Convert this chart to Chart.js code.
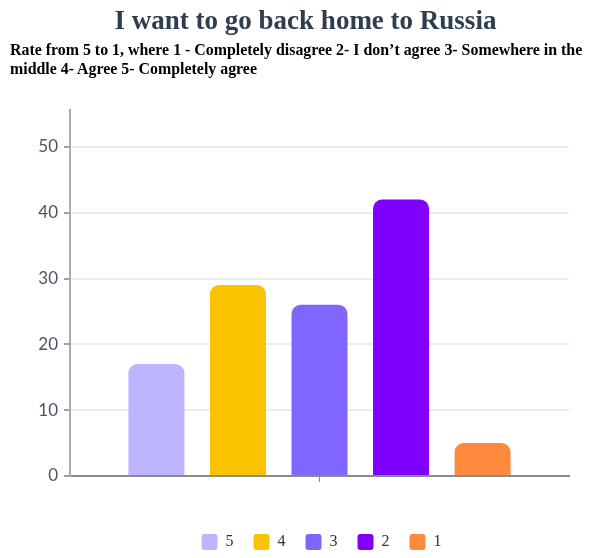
<!DOCTYPE html>
<html>
<head>
<meta charset="utf-8">
<script src="https://cdn.jsdelivr.net/npm/chart.js@4"></script>
<style>
  html, body { margin: 0; padding: 0; background: #fff; }
  #wrap { position: relative; width: 589px; height: 558px; }
  #title {
    position: absolute; left: 0; top: 5px; width: 567px; padding-left: 22px;
    text-align: center; font: bold 27px/30px "Liberation Serif", serif; color: #2c3e50;
  }
  #subtitle {
    position: absolute; left: 10px; top: 40px; white-space: nowrap;
    font: bold 15.9px/19px "Liberation Serif", serif; color: #000;
  }
  canvas { position: absolute; left: 0; top: 0; }
</style>
</head>
<body>
<div id="wrap">
  <canvas id="chart" width="589" height="558"></canvas>
  <div id="title">I want to go back home to Russia</div>
  <div id="subtitle">Rate from 5 to 1, where 1 - Completely disagree 2- I don’t agree 3- Somewhere in the<br>middle 4- Agree 5- Completely agree</div>
</div>
<script>
const categories = [''];
const seriesNames = ['5', '4', '3', '2', '1'];
const seriesValues = [17, 29, 26, 42, 5];
const yTicks = [0, 10, 20, 30, 40, 50];

const seriesColors = ['#bdb5ff', '#f9c300', '#8066ff', '#7f00ff', '#ff8a3d'];

// legend sits a bit right of the canvas centre in the reference
const shiftLegend = {
    id: 'shiftLegend',
    afterLayout: function (chart) {
        const lg = chart.legend;
        lg.left += 37; lg.right += 37;
        lg.top += 2; lg.bottom += 2;
    }
};

const ctx = document.getElementById('chart').getContext('2d');
new Chart(ctx, {
    type: 'bar',
    data: {
        labels: categories,
        datasets: seriesNames.map(function (name, i) {
            return {
                label: name,
                data: [seriesValues[i]],
                backgroundColor: seriesColors[i],
                borderRadius: 9,
                borderSkipped: 'start',
                categoryPercentage: 0.817,
                barPercentage: 0.687
            };
        })
    },
    options: {
        responsive: false,
        animation: false,
        layout: { padding: { top: 110, right: 20, left: 0, bottom: 0 } },
        scales: {
            x: {
                border: { color: '#8a8a8a', width: 2 },
                grid: { display: true, drawOnChartArea: false, offset: false, tickLength: 6, tickColor: '#8a8a8a' },
                ticks: { display: true },
                afterFit: function (s) { s.height = 36; }
            },
            y: {
                min: 0,
                max: 55.6,
                border: { color: '#ababab', width: 2 },
                grid: { color: '#ececec', lineWidth: 2, tickLength: 6, tickColor: '#a0a0a0' },
                ticks: {
                    stepSize: 10,
                    padding: 6,
                    color: '#4a5563',
                    font: { family: 'Lato', size: 17 }
                },
                afterBuildTicks: function (s) {
                    s.ticks = yTicks.map(function (v) { return { value: v }; });
                },
                afterFit: function (s) { s.width = 70; }
            }
        },
        plugins: {
            legend: {
                position: 'bottom',
                labels: {
                    boxWidth: 16,
                    boxHeight: 16,
                    useBorderRadius: true,
                    borderRadius: 3,
                    padding: 20,
                    color: '#333',
                    font: { family: 'Liberation Serif', size: 16 }
                }
            },
            tooltip: { enabled: false }
        }
    },
    plugins: [shiftLegend]
});
</script>
</body>
</html>
